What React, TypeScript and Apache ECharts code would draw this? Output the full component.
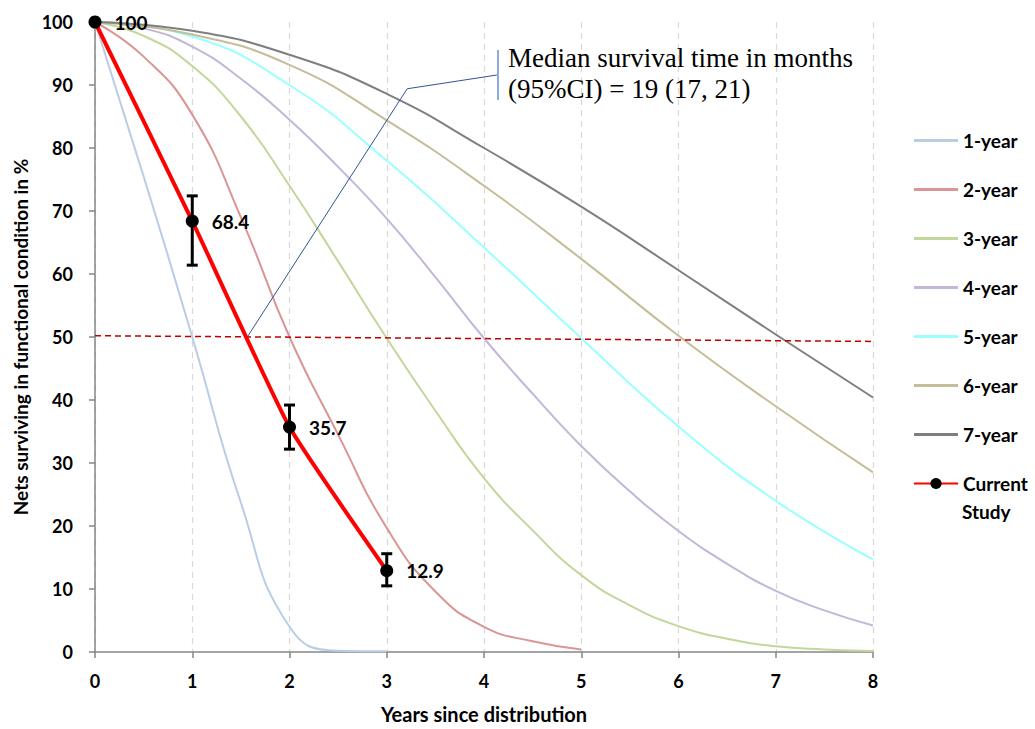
import React, { useEffect, useRef } from "react";
import * as echarts from "echarts";

// ---------- data ----------
const yearTicks = [0, 1, 2, 3, 4, 5, 6, 7, 8];

const oneYearX = [0, 0.5, 1, 1.5, 2, 2.5, 3];
const oneYearY = [100, 75.5, 50, 23.7, 4, 0.2, 0.1];

const twoYearX = [0, 0.5, 1, 1.5, 2, 2.5, 3, 3.5, 4, 4.5, 5];
const twoYearY = [100, 94.5, 85.3, 69, 50, 34.5, 19.7, 9.6, 4.0, 1.7, 0.4];

const threeYearX = [0, 0.5, 1, 1.5, 2, 2.5, 3, 3.5, 4, 4.5, 5, 5.5, 6, 6.5, 7, 7.5, 8];
const threeYearY = [100, 97.8, 93, 85, 74, 62, 49.8, 38.3, 27.6, 19.3, 12.2, 7.4, 4.1, 2.1, 0.9, 0.4, 0.15];

const fourYearX = [0, 0.5, 1, 1.5, 2, 2.5, 3, 3.5, 4, 4.5, 5, 5.5, 6, 6.5, 7, 7.5, 8];
const fourYearY = [100, 99, 96.1, 91, 84.5, 77, 68.8, 59.5, 49.8, 41, 32.7, 25.5, 19.2, 14, 9.7, 6.6, 4.2];

const fiveYearY = [100, 97.7, 90, 78, 64.2, 49.8, 35.8, 24, 14.7];
const sixYearY = [100, 98, 93.2, 84.4, 74, 62.4, 50.2, 39, 28.5];
const sevenYearY = [100, 98.6, 94.8, 88.6, 80, 70.7, 60.6, 50.4, 40.4];

const studyYears = [0, 1, 2, 3];
const studyValues = [100, 68.4, 35.7, 12.9];
const ciYears = [1, 2, 3];
const ciLow = [61.4, 32.2, 10.5];
const ciHigh = [72.4, 39.2, 15.6];

const medianRefX = [0, 8];
const medianRefY = [50.2, 49.3];

const leaderX = [1.57, 3.21, 4.14];
const leaderY = [50.1, 89.4, 91.6];

const seriesNames = ["1-year", "2-year", "3-year", "4-year", "5-year", "6-year", "7-year", "Current Study"];
const seriesColors = ["#b9cde5", "#d99694", "#c3d69b", "#c3b6d8", "#99ffff", "#c4bd97", "#7f7f7f"];

const calloutText = "Median survival time in months\n(95%CI) = 19 (17, 21)";

// ---------- helpers ----------
const zip = (xs: number[], ys: number[]) => xs.map((x, i) => [x, ys[i]]);

const FONT = "Lato";
const LINE_ICON = "path://M0 0H44V3H0Z";

export default function App() {
  const ref = useRef<HTMLDivElement>(null);

  useEffect(() => {
    if (!ref.current) return;
    const chart = echarts.init(ref.current, null, { renderer: "svg" });

    const curveData = [
      zip(oneYearX, oneYearY),
      zip(twoYearX, twoYearY),
      zip(threeYearX, threeYearY),
      zip(fourYearX, fourYearY),
      zip(yearTicks, fiveYearY),
      zip(yearTicks, sixYearY),
      zip(yearTicks, sevenYearY),
    ];

    const curveSeries = curveData.map((d, i) => ({
      type: "line",
      name: seriesNames[i],
      data: d,
      smooth: 0.5,
      symbol: "none",
      showSymbol: false,
      lineStyle: { color: seriesColors[i], width: 2 },
      itemStyle: { color: seriesColors[i] },
      z: 2,
      silent: true,
    }));

    const legendData = seriesNames.map((n) =>
      n === "Current Study" ? { name: n } : { name: n, icon: LINE_ICON }
    );

    const option: any = {
      animation: false,
      backgroundColor: "#ffffff",
      grid: { left: 95, right: 162, top: 22, bottom: 74, containLabel: false },
      xAxis: {
        type: "value",
        min: 0,
        max: 8,
        interval: 1,
        name: "Years since distribution",
        nameLocation: "middle",
        nameGap: 52,
        nameTextStyle: { fontFamily: FONT, fontWeight: "bold", fontSize: 20, color: "#000" },
        axisLine: { show: true, lineStyle: { color: "#868686", width: 1.5 } },
        axisTick: { show: true, length: 6, lineStyle: { color: "#868686", width: 1.5 } },
        axisLabel: { fontFamily: FONT, fontWeight: "bold", fontSize: 18, color: "#000", margin: 20 },
        splitLine: { show: true, lineStyle: { color: "#d9d9d9", width: 1.2, type: [6, 5] } },
      },
      yAxis: {
        type: "value",
        min: 0,
        max: 100,
        interval: 10,
        name: "Nets surviving in functional condition in %",
        nameLocation: "middle",
        nameGap: 65,
        nameTextStyle: { fontFamily: FONT, fontWeight: "bold", fontSize: 19, color: "#000" },
        axisLine: { show: true, lineStyle: { color: "#868686", width: 1.5 } },
        axisTick: { show: true, length: 6, lineStyle: { color: "#868686", width: 1.5 } },
        axisLabel: { fontFamily: FONT, fontWeight: "bold", fontSize: 18, color: "#000", margin: 22 },
        splitLine: { show: false },
      },
      legend: {
        data: legendData,
        orient: "vertical",
        left: 913,
        top: 131,
        padding: 0,
        itemWidth: 44,
        itemHeight: 14,
        itemGap: 30,
        selectedMode: false,
        formatter: (n: string) => (n === "Current Study" ? "Current" : n),
        textStyle: { fontFamily: FONT, fontWeight: "bold", fontSize: 19, lineHeight: 19, color: "#000" },
      },
      graphic: [
        {
          type: "line",
          shape: { x1: 498, y1: 50, x2: 498, y2: 100 },
          style: { stroke: "#8faadc", lineWidth: 2 },
          z: 10,
        },
        {
          type: "text",
          left: 508,
          top: 42,
          style: {
            text: calloutText,
            font: '27px "Liberation Serif"',
            lineHeight: 31,
            fill: "#000",
          },
          z: 10,
        },
        {
          type: "text",
          left: 962,
          top: 502,
          style: { text: "Study", font: `bold 19px ${FONT}`, fill: "#000" },
          z: 10,
        },
      ],
      series: [
        ...curveSeries,
        {
          type: "line",
          name: "median-ref",
          data: zip(medianRefX, medianRefY),
          symbol: "none",
          lineStyle: { color: "#c00000", width: 1.5, type: [6, 4] },
          z: 3,
          silent: true,
        },
        {
          type: "line",
          name: "leader",
          data: zip(leaderX, leaderY),
          symbol: "none",
          lineStyle: { color: "#2f5597", width: 1 },
          z: 6,
          silent: true,
        },
        {
          type: "custom",
          name: "ci",
          data: ciYears.map((x, i) => [x, ciLow[i], ciHigh[i]]),
          z: 7,
          silent: true,
          renderItem: (params: any, api: any) => {
            const x = api.value(0);
            const lo = api.coord([x, api.value(1)]);
            const hi = api.coord([x, api.value(2)]);
            const w = 5.5;
            const style = { stroke: "#000", lineWidth: 3 };
            return {
              type: "group",
              children: [
                { type: "line", shape: { x1: lo[0], y1: lo[1], x2: hi[0], y2: hi[1] }, style },
                { type: "line", shape: { x1: lo[0] - w, y1: lo[1], x2: lo[0] + w, y2: lo[1] }, style },
                { type: "line", shape: { x1: hi[0] - w, y1: hi[1], x2: hi[0] + w, y2: hi[1] }, style },
              ],
            };
          },
        },
        {
          type: "line",
          name: "Current Study",
          data: zip(studyYears, studyValues),
          smooth: 0.15,
          symbol: "circle",
          symbolSize: 13,
          showSymbol: true,
          itemStyle: { color: "#000" },
          lineStyle: { color: "#ff0000", width: 4 },
          label: {
            show: true,
            position: "right",
            distance: 13,
            fontFamily: FONT,
            fontWeight: "bold",
            fontSize: 19,
            color: "#000",
            formatter: (p: any) => String(p.value[1]),
          },
          z: 8,
          silent: true,
        },
      ],
    };

    chart.setOption(option);
    return () => chart.dispose();
  }, []);

  return (
    <div
      ref={ref}
      style={{ position: "fixed", left: 0, top: 0, width: 1035, height: 729, background: "#fff" }}
    />
  );
}
